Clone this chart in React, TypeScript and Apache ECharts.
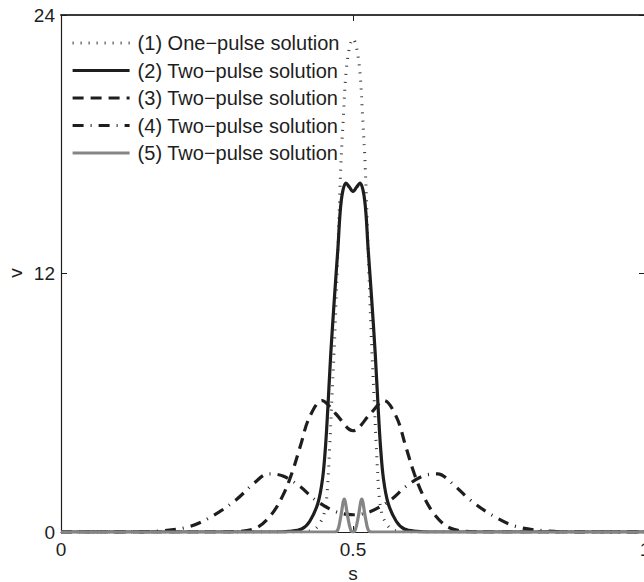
import React, { useEffect, useRef } from "react";
import * as echarts from "echarts";

// Tick values
const S_TICKS = [0, 0.5, 1];
const V_TICKS = [0, 12, 24];

// Axis names
const X_NAME = "s";
const Y_NAME = "v";

// Legend names
const NAMES = [
  "(1) One\u2212pulse solution",
  "(2) Two\u2212pulse solution",
  "(3) Two\u2212pulse solution",
  "(4) Two\u2212pulse solution",
  "(5) Two\u2212pulse solution",
];

// (1) One-pulse solution [s, v]
const curve1: number[][] = [
  [0, 0], [0.4, 0], [0.42, 0.02], [0.435, 0.15], [0.443, 0.4], [0.45, 0.8],
  [0.455, 1.6], [0.46, 3.9], [0.464, 6.3], [0.468, 8.6], [0.473, 12.2],
  [0.479, 16.9], [0.484, 19.5], [0.488, 21.3], [0.494, 22.5], [0.5, 22.9],
  [0.506, 22.5], [0.512, 21.3], [0.516, 19.5], [0.521, 16.9], [0.527, 12.2],
  [0.532, 8.6], [0.536, 6.3], [0.54, 3.9], [0.545, 1.6], [0.55, 0.8],
  [0.557, 0.4], [0.565, 0.15], [0.58, 0.02], [0.6, 0], [1, 0],
];

// (2) Two-pulse solution
const curve2: number[][] = [
  [0, 0], [0.37, 0], [0.39, 0.03], [0.412, 0.14], [0.426, 0.5], [0.44, 1.35],
  [0.448, 2.5], [0.453, 4.0], [0.457, 5.8], [0.462, 8.3], [0.468, 10.8],
  [0.474, 13.1], [0.48, 15.4], [0.488, 16.2], [0.494, 16.0], [0.5, 15.8],
  [0.506, 16.0], [0.512, 16.2], [0.52, 15.4], [0.526, 13.1], [0.532, 10.8],
  [0.538, 8.3], [0.543, 5.8], [0.547, 4.0], [0.552, 2.5], [0.56, 1.35],
  [0.574, 0.5], [0.588, 0.14], [0.61, 0.03], [0.63, 0], [1, 0],
];

// (3) Two-pulse solution
const curve3: number[][] = [
  [0, 0], [0.26, 0], [0.3, 0.02], [0.335, 0.2], [0.36, 0.8], [0.38, 1.7],
  [0.395, 2.7], [0.41, 4.0], [0.425, 5.3], [0.447, 6.1], [0.47, 5.5],
  [0.5, 4.7], [0.53, 5.5], [0.553, 6.1], [0.575, 5.3], [0.59, 4.0],
  [0.605, 2.7], [0.62, 1.7], [0.64, 0.8], [0.665, 0.2], [0.7, 0.02],
  [0.74, 0], [1, 0],
];

// (4) Two-pulse solution
const curve4: number[][] = [
  [0, 0], [0.12, 0], [0.17, 0.05], [0.22, 0.25], [0.26, 0.75], [0.3, 1.5],
  [0.33, 2.25], [0.355, 2.7], [0.38, 2.6], [0.41, 2.1], [0.435, 1.5],
  [0.47, 0.95], [0.5, 0.8], [0.53, 0.95], [0.565, 1.5], [0.59, 2.1],
  [0.62, 2.6], [0.645, 2.7], [0.67, 2.25], [0.7, 1.5], [0.74, 0.75],
  [0.78, 0.25], [0.83, 0.05], [0.88, 0], [1, 0],
];

// (5) Two-pulse solution
const curve5: number[][] = [
  [0, 0], [0.468, 0], [0.474, 0.1], [0.479, 0.7], [0.485, 1.53], [0.491, 0.7],
  [0.496, 0.1], [0.5, 0], [0.504, 0.1], [0.509, 0.7], [0.515, 1.53],
  [0.521, 0.7], [0.526, 0.1], [0.532, 0], [1, 0],
];

const FONT = "'Liberation Sans', Arial, Helvetica, sans-serif";
const INK = "#1e1e1e";

export default function App() {
  const ref = useRef<HTMLDivElement>(null);

  useEffect(() => {
    if (!ref.current) return;
    const chart = echarts.init(ref.current, undefined, { renderer: "svg" });

    const fmtS = (v: number) => (S_TICKS.includes(v) ? String(v) : "");
    const fmtV = (v: number) => (V_TICKS.includes(v) ? String(v) : "");

    const axisLine = { show: true, onZero: false, lineStyle: { color: INK, width: 1.2 } };
    const tick = { show: true, inside: true, length: 6, lineStyle: { color: INK, width: 1 } };

    const mk = (name: string, data: number[][], ls: any, z: number) => ({
      name,
      type: "line",
      data,
      smooth: 0.35,
      showSymbol: false,
      symbol: "none",
      lineStyle: ls,
      z,
      xAxisIndex: 0,
      yAxisIndex: 0,
    });

    chart.setOption({
      animation: false,
      textStyle: { fontFamily: FONT },
      grid: { left: 61, top: 15, right: -1, bottom: 50, outerBoundsMode: "none", containLabel: false },
      graphic: [
        {
          type: "text",
          x: 15,
          y: 273,
          rotation: Math.PI / 2,
          style: {
            text: Y_NAME,
            fontSize: 19,
            fontFamily: FONT,
            fill: INK,
            align: "center",
            verticalAlign: "middle",
          },
        },
      ],
      legend: {
        orient: "vertical",
        left: 71,
        top: 33,
        padding: 0,
        itemWidth: 57,
        itemHeight: 20,
        itemGap: 7.5,
        selectedMode: false,
        data: NAMES,
        itemStyle: { opacity: 0 },
        lineStyle: { width: 3.2 },
        textStyle: {
          fontFamily: FONT,
          fontSize: 20,
          color: INK,
          lineHeight: 20,
          padding: [0, 0, 0, 3],
        },
      },
      xAxis: [
        {
          type: "value",
          min: 0,
          max: 1,
          interval: 0.5,
          position: "bottom",
          axisLine,
          axisTick: tick,
          splitLine: { show: false },
          axisLabel: { fontSize: 19, color: INK, margin: 8, fontFamily: FONT, formatter: fmtS },
          name: X_NAME,
          nameLocation: "middle",
          nameGap: 30,
          nameTextStyle: { fontSize: 19, color: INK, fontFamily: FONT, lineHeight: 12 },
        },
        {
          type: "value",
          min: 0,
          max: 1,
          interval: 0.5,
          position: "top",
          axisLine: { show: true, onZero: false, lineStyle: { color: "#3a3a3a", width: 2 } },
          axisTick: tick,
          splitLine: { show: false },
          axisLabel: { show: false },
        },
      ],
      yAxis: [
        {
          type: "value",
          min: 0,
          max: 24,
          interval: 12,
          position: "left",
          axisLine,
          axisTick: tick,
          splitLine: { show: false },
          axisLabel: { fontSize: 19, color: INK, margin: 6, fontFamily: FONT, formatter: fmtV },
        },
        {
          type: "value",
          min: 0,
          max: 24,
          interval: 12,
          position: "right",
          axisLine,
          axisTick: tick,
          splitLine: { show: false },
          axisLabel: { show: false },
        },
      ],
      series: [
        mk(NAMES[0], curve1, { color: "#333", width: 3, type: [1, 7] }, 2),
        mk(NAMES[1], curve2, { color: INK, width: 3.2, type: "solid" }, 3),
        mk(NAMES[2], curve3, { color: INK, width: 3.2, type: [11, 7] }, 4),
        mk(NAMES[3], curve4, { color: INK, width: 3.2, type: [11, 7, 1, 7] }, 5),
        mk(NAMES[4], curve5, { color: "#858585", width: 3.2, type: "solid" }, 6),
      ],
    });

    return () => chart.dispose();
  }, []);

  return (
    <div
      ref={ref}
      style={{ position: "absolute", left: 0, top: 0, width: 644, height: 582, background: "#fff" }}
    />
  );
}
